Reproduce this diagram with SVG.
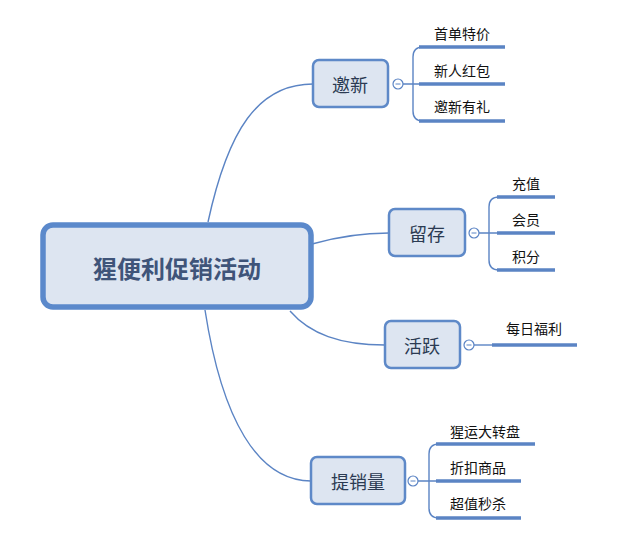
<svg xmlns="http://www.w3.org/2000/svg" width="640" height="553" viewBox="0 0 640 553">
<style>
.conn{fill:none;stroke:#5b84c4;stroke-width:1.4}
.leaf{fill:none;stroke:#5b84c4;stroke-width:3.5}
.box{fill:#dde5f1;stroke:#5e89c8;stroke-width:2.5}
.root{fill:#dde5f1;stroke:#5b89cb;stroke-width:5.5}
.col{fill:#fff;stroke:#5b84c4;stroke-width:1.2}
.minus{stroke:#5b84c4;stroke-width:1}
text{font-family:"Noto Sans CJK SC","Liberation Sans",sans-serif}
.t1{font-size:18px;fill:#2b3a52;text-anchor:middle;dominant-baseline:central}
.t0{font-size:24px;font-weight:bold;fill:#3f5479;text-anchor:middle;dominant-baseline:central}
.t2{font-size:14px;fill:#111}
</style>
<rect width="640" height="553" fill="#fff"/>
<g id="connectors">
<path class="conn" d="M208,222 C228,130 258,84 313,84"/>
<path class="conn" d="M312,244 C340,236 362,233 389,233"/>
<path class="conn" d="M290,311 C310,334 340,345 385,345"/>
<path class="conn" d="M205,310 C222,420 258,481 311,481"/>
<path class="conn" d="M403,84 H419 M413,84 V57 Q413,47 423,47 H430 M413,84 V111 Q413,121 423,121 H430"/>
<path class="conn" d="M479,233 H497 M489,233 V207 Q489,197 499,197 H505 M489,233 V260 Q489,270 499,270 H505"/>
<path class="conn" d="M474,345 H492"/>
<path class="conn" d="M418,481 H436 M429,481 V454 Q429,444 439,444 H445 M429,481 V508 Q429,518 439,518 H445"/>
<path class="leaf" d="M419,47 H505 M419,84 H505 M419,121 H505"/>
<path class="leaf" d="M497,197 H555 M497,233 H555 M497,270 H555"/>
<path class="leaf" d="M492,345 H577"/>
<path class="leaf" d="M436,444 H535 M436,481 H521 M436,518 H521"/>
</g>
<g id="root"><rect class="root" x="43" y="225" width="268" height="82" rx="10"/><text class="t0" x="177" y="267">猩便利促销活动</text></g>
<g id="n1"><rect class="box" x="313" y="60" width="75" height="47" rx="6"/><text class="t1" x="350" y="84">邀新</text>
<circle class="col" cx="398" cy="84" r="5"/><path class="minus" d="M395.5,84 H400.5"/></g>
<g id="n2"><rect class="box" x="389" y="209" width="76" height="47" rx="6"/><text class="t1" x="427" y="233">留存</text>
<circle class="col" cx="474" cy="233" r="5"/><path class="minus" d="M471.5,233 H476.5"/></g>
<g id="n3"><rect class="box" x="385" y="321" width="75" height="47" rx="6"/><text class="t1" x="422" y="345">活跃</text>
<circle class="col" cx="469" cy="345" r="5"/><path class="minus" d="M466.5,345 H471.5"/></g>
<g id="n4"><rect class="box" x="311" y="457" width="94" height="47" rx="6"/><text class="t1" x="358" y="481">提销量</text>
<circle class="col" cx="413" cy="481" r="5"/><path class="minus" d="M410.5,481 H415.5"/></g>
<g id="leaves">
<text class="t2" x="434" y="39">首单特价</text>
<text class="t2" x="434" y="76">新人红包</text>
<text class="t2" x="434" y="112">邀新有礼</text>
<text class="t2" x="512" y="189">充值</text>
<text class="t2" x="512" y="225">会员</text>
<text class="t2" x="512" y="262">积分</text>
<text class="t2" x="506" y="334">每日福利</text>
<text class="t2" x="450" y="437">猩运大转盘</text>
<text class="t2" x="450" y="473">折扣商品</text>
<text class="t2" x="450" y="509">超值秒杀</text>
</g>
</svg>
